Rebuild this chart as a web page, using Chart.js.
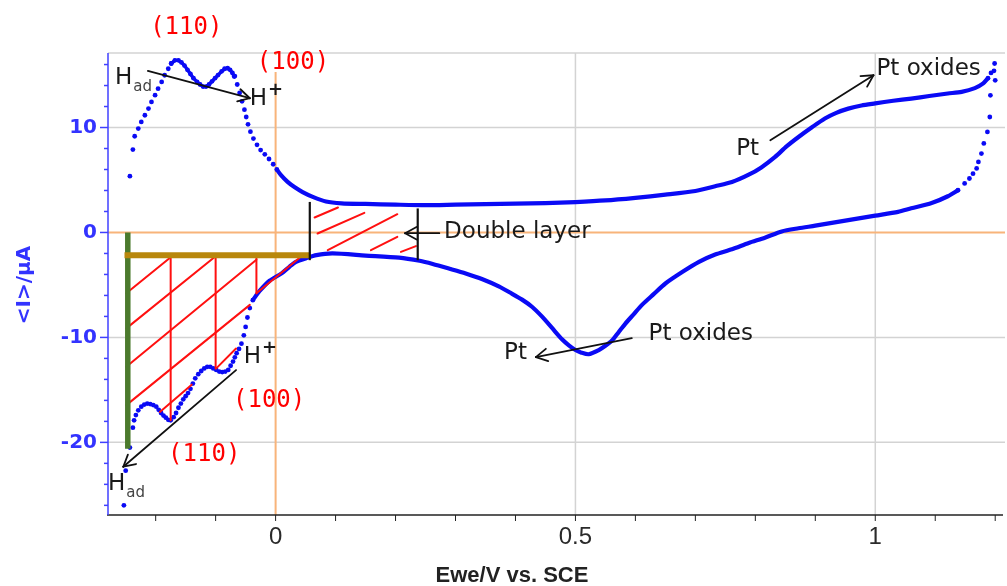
<!DOCTYPE html>
<html>
<head>
<meta charset="utf-8">
<script src="https://cdn.jsdelivr.net/npm/chart.js@4.4.1/dist/chart.umd.min.js"></script>
<style>
  html, body { margin: 0; padding: 0; background: #ffffff; }
  #wrap { width: 1007px; height: 586px; position: relative; }
</style>
</head>
<body>
<div id="wrap"><canvas id="cv"></canvas></div>
<script>
// Cyclic voltammogram of Pt: potential (V vs. SCE) and current (µA)

const xTickLabels = [0, 0.5, 1];
const yTickLabels = [-20, -10, 0, 10];
const xGrid = [0.5, 1];
const yGrid = [-20, -10, 10];

// anodic sweep: hydrogen desorption rise (sparse dots)
const anodicRise = [
  [-0.243, 5.36], [-0.238, 7.9], [-0.235, 9.17], [-0.229, 9.9], [-0.224, 10.53],
  [-0.218, 11.17], [-0.212, 11.8], [-0.207, 12.44], [-0.201, 13.08], [-0.196, 13.7],
  [-0.190, 14.34], [-0.185, 14.98], [-0.179, 15.6], [-0.174, 16.1]
];
// anodic sweep: (110) and (100) desorption peaks
const anodicPeaks = [
  [-0.174, 16.1], [-0.168, 16.4], [-0.162, 16.4], [-0.157, 16.2], [-0.152, 15.9],
  [-0.147, 15.5], [-0.142, 15.1], [-0.137, 14.7], [-0.131, 14.35], [-0.126, 14.1],
  [-0.121, 13.9], [-0.116, 13.9], [-0.111, 14.1], [-0.106, 14.4], [-0.101, 14.7],
  [-0.096, 15.0], [-0.090, 15.35], [-0.085, 15.6], [-0.080, 15.65], [-0.076, 15.5],
  [-0.072, 15.2], [-0.069, 14.85]
];
// anodic sweep: fall after the peaks
const anodicFall = [
  [-0.068, 14.9], [-0.064, 14.1], [-0.060, 13.3], [-0.056, 12.5], [-0.052, 11.7],
  [-0.049, 11.0], [-0.046, 10.3], [-0.042, 9.6], [-0.037, 8.95], [-0.031, 8.35],
  [-0.025, 7.85], [-0.018, 7.45], [-0.011, 7.0], [-0.004, 6.5], [0.002, 6.0]
];
// anodic sweep: double layer and oxide formation
const anodicMain = [
  [0.002, 6.0], [0.009, 5.46], [0.020, 4.82], [0.032, 4.3], [0.045, 3.85],
  [0.062, 3.39], [0.084, 2.95], [0.11, 2.78], [0.15, 2.72], [0.2, 2.65],
  [0.25, 2.6], [0.3, 2.65], [0.35, 2.7], [0.4, 2.75], [0.45, 2.8],
  [0.5, 2.9], [0.55, 3.05], [0.6, 3.3], [0.65, 3.6], [0.7, 3.95],
  [0.733, 4.4], [0.761, 4.8], [0.789, 5.5], [0.81, 6.2], [0.833, 7.2],
  [0.852, 8.2], [0.872, 9.1], [0.895, 10.05], [0.916, 10.86], [0.935, 11.4],
  [0.955, 11.8], [0.977, 12.1], [1.0, 12.3], [1.03, 12.55], [1.06, 12.76],
  [1.09, 13.0], [1.121, 13.24], [1.144, 13.4], [1.166, 13.75], [1.180, 14.2],
  [1.188, 14.7]
];
// reversal at the upper vertex
const vertexDots = [
  [1.188, 14.7], [1.193, 15.2], [1.198, 15.4], [1.199, 16.1], [1.2, 14.5],
  [1.192, 13.07], [1.191, 11.0], [1.187, 9.58], [1.181, 8.48], [1.177, 7.52],
  [1.172, 6.72], [1.169, 6.1], [1.163, 5.6], [1.157, 5.14], [1.149, 4.67],
  [1.138, 4.03]
];
// cathodic sweep: oxide reduction and double layer
const cathodicMain = [
  [1.138, 4.03], [1.121, 3.45], [1.094, 2.8], [1.06, 2.3], [1.038, 1.96],
  [1.0, 1.6], [0.955, 1.17], [0.9, 0.65], [0.872, 0.4], [0.844, 0.1],
  [0.816, -0.5], [0.789, -1.0], [0.761, -1.6], [0.733, -2.1], [0.706, -2.8],
  [0.68, -3.7], [0.65, -4.86], [0.63, -5.9], [0.611, -6.9], [0.597, -7.8],
  [0.583, -8.7], [0.572, -9.5], [0.561, -10.3], [0.55, -10.8], [0.539, -11.2],
  [0.522, -11.6], [0.51, -11.45], [0.5, -11.2], [0.489, -10.75], [0.478, -10.2],
  [0.461, -9.1], [0.444, -8.0], [0.428, -7.1], [0.411, -6.4], [0.39, -5.7],
  [0.373, -5.15], [0.345, -4.45], [0.317, -3.9], [0.29, -3.45], [0.262, -3.0],
  [0.24, -2.7], [0.206, -2.4], [0.15, -2.2], [0.095, -2.0], [0.068, -2.16],
  [0.051, -2.45], [0.034, -2.8], [0.023, -3.27], [0.01, -3.9], [-0.01, -4.6],
  [-0.027, -5.6], [-0.038, -6.45]
];
// cathodic sweep: hydrogen adsorption region
const cathodicHydrogen = [
  [-0.038, -6.45], [-0.043, -7.2], [-0.047, -8.1], [-0.050, -9.0], [-0.053, -9.8],
  [-0.057, -10.6], [-0.061, -11.1], [-0.065, -11.5], [-0.068, -11.9], [-0.071, -12.3],
  [-0.075, -12.7], [-0.079, -13.1], [-0.084, -13.25], [-0.089, -13.3], [-0.094, -13.25],
  [-0.099, -13.1], [-0.104, -12.95], [-0.109, -12.8], [-0.114, -12.8], [-0.119, -12.95],
  [-0.124, -13.2], [-0.129, -13.5], [-0.134, -13.9], [-0.138, -14.4], [-0.142, -14.9],
  [-0.146, -15.3], [-0.150, -15.6], [-0.154, -15.9], [-0.158, -16.3], [-0.162, -16.7],
  [-0.166, -17.2], [-0.170, -17.6], [-0.175, -17.9], [-0.179, -17.85], [-0.183, -17.65],
  [-0.187, -17.45], [-0.191, -17.2], [-0.195, -16.9], [-0.199, -16.6], [-0.204, -16.45],
  [-0.209, -16.35], [-0.214, -16.3], [-0.219, -16.4], [-0.224, -16.6], [-0.229, -16.95],
  [-0.233, -17.4], [-0.236, -17.9], [-0.238, -18.6], [-0.243, -20.5], [-0.25, -22.7],
  [-0.253, -26.0]
];

const BLUE = '#0a0af5';
const toXY = arr => arr.map(p => ({ x: p[0], y: p[1] }));

function dots(arr) {
  return { data: toXY(arr), showLine: false, pointRadius: 2.4, pointBackgroundColor: BLUE,
           pointBorderWidth: 0, borderColor: BLUE };
}
function trace(arr, withDots) {
  return { data: toXY(arr), showLine: true, borderColor: BLUE, borderWidth: withDots ? 3.4 : 4.2,
           tension: withDots ? 0 : 0.25,
           pointRadius: withDots ? 2.4 : 0, pointBackgroundColor: BLUE, pointBorderWidth: 0 };
}

// annotation geometry in data units (V, µA)
const hatchLines = [
  [-0.175, -2.16, -0.175, -17.9], [-0.1, -2.16, -0.1, -12.95], [-0.032, -2.16, -0.032, -5.8],
  [-0.249, -5.8, -0.176, -2.4], [-0.249, -9.14, -0.1, -2.26], [-0.249, -12.8, -0.032, -2.6],
  [-0.249, -16.45, -0.043, -6.9], [-0.193, -17.1, -0.14, -14.5], [-0.099, -12.95, -0.066, -11.05],
  [-0.032, -5.8, 0.043, -2.26]
];
const layerHatch = [
  [0.065, 1.43, 0.104, 2.38], [0.070, -0.1, 0.148, 1.87], [0.087, -1.69, 0.203, 1.74],
  [0.159, -1.69, 0.203, -0.42], [0.209, -1.85, 0.234, -1.3]
];
const blackBars = [[0.057, 2.91, 0.057, -2.64], [0.237, 2.29, 0.237, -2.64]];
const arrows = [
  [-0.213, 15.39, -0.043, 12.79], [0.825, 8.79, 0.997, 14.98], [0.273, -0.07, 0.216, -0.07],
  [0.594, -10.07, 0.434, -11.88], [-0.066, -13.11, -0.254, -22.32]
];
const words = [
  ['Pt oxides', 1.002, 14.98], ['Pt', 0.768, 7.36], ['Double layer', 0.281, -0.57],
  ['Pt oxides', 0.622, -10.25], ['Pt', 0.381, -12.06]
];
const facetLabels = [
  ['(110)', -0.149, 19.5], ['(100)', 0.029, 16.17], ['(100)', -0.0108, -16.07], ['(110)', -0.119, -21.2]
];

const decor = {
  id: 'decor',
  beforeDatasetsDraw(chart) {
    const ctx = chart.ctx, xs = chart.scales.x, ys = chart.scales.y;
    const { left, right, top, bottom } = chart.chartArea;
    ctx.save();
    ctx.lineCap = 'butt';
    ctx.strokeStyle = '#d3d3d3'; ctx.lineWidth = 1.5;
    const seg = (a, b, c, d) => { ctx.beginPath(); ctx.moveTo(a, b); ctx.lineTo(c, d); ctx.stroke(); };
    yGrid.forEach(v => { const y = ys.getPixelForValue(v); seg(left, y, right + 2, y); });
    xGrid.forEach(v => { const x = xs.getPixelForValue(v); seg(x, top, x, bottom); });
    seg(left, top, right + 2, top);
    // zero lines
    ctx.strokeStyle = '#f8b47a'; ctx.lineWidth = 2;
    const y0 = ys.getPixelForValue(0), x0 = xs.getPixelForValue(0);
    seg(left, y0, right + 2, y0);
    seg(x0, top, x0, bottom);
    // axes
    ctx.strokeStyle = '#222'; ctx.lineWidth = 1.5;
    seg(left - 1, bottom, right, bottom);
    ctx.lineWidth = 1;
    for (let i = -2; i <= 12; i++) {
      const x = xs.getPixelForValue(i / 10);
      seg(x, bottom, x, bottom + 6);
    }
    ctx.strokeStyle = '#4040ff'; ctx.lineWidth = 1.5;
    seg(left, top, left, bottom);
    for (let v = -26; v <= 16; v += 2) {
      const y = ys.getPixelForValue(v);
      seg(left - (v % 10 === 0 ? 8 : 4), y, left, y);
    }
    ctx.restore();
  },
  afterDatasetsDraw(chart) {
    const ctx = chart.ctx, xs = chart.scales.x, ys = chart.scales.y;
    const P = (x, y) => [xs.getPixelForValue(x), ys.getPixelForValue(y)];
    const line = (l) => { const a = P(l[0], l[1]), b = P(l[2], l[3]);
      ctx.beginPath(); ctx.moveTo(a[0], a[1]); ctx.lineTo(b[0], b[1]); ctx.stroke(); };
    ctx.save();
    ctx.lineCap = 'round';
    // red hatching
    ctx.strokeStyle = '#ff1010'; ctx.lineWidth = 2;
    hatchLines.forEach(line);
    layerHatch.forEach(line);
    // integration limits
    ctx.lineCap = 'butt';
    ctx.strokeStyle = '#4b7a2d'; ctx.lineWidth = 5.5;
    line([-0.2465, 0, -0.2465, -20.6]);
    ctx.strokeStyle = '#b8870c'; ctx.lineWidth = 6;
    line([-0.252, -2.16, 0.058, -2.16]);
    ctx.strokeStyle = '#111'; ctx.lineWidth = 2.2;
    blackBars.forEach(line);
    // arrows
    ctx.lineWidth = 1.8; ctx.lineCap = 'round';
    arrows.forEach(l => {
      line(l);
      const a = P(l[0], l[1]), b = P(l[2], l[3]);
      const ang = Math.atan2(b[1] - a[1], b[0] - a[0]);
      [0.5, -0.5].forEach(d => {
        ctx.beginPath(); ctx.moveTo(b[0], b[1]);
        ctx.lineTo(b[0] - 13 * Math.cos(ang + d), b[1] - 13 * Math.sin(ang + d)); ctx.stroke();
      });
    });
    // red facet labels
    ctx.font = '24px "DejaVu Sans Mono"';
    ctx.textAlign = 'center'; ctx.textBaseline = 'middle';
    facetLabels.forEach((t, i) => {
      const p = P(t[1], t[2]);
      if (i === 1) { ctx.fillStyle = '#fff'; ctx.fillRect(p[0] - 34, 55, 68, 17); }
      ctx.fillStyle = '#ff0000';
      ctx.fillText(t[0], p[0], p[1]);
    });
    // black labels
    ctx.fillStyle = '#1a1a1a'; ctx.textAlign = 'left'; ctx.textBaseline = 'alphabetic';
    ctx.font = '23px "DejaVu Sans"';
    words.forEach(t => { const p = P(t[1], t[2]); ctx.fillText(t[0], p[0], p[1]); });
    // H_ad and H+ labels
    const hLabel = (x, y, kind) => {
      const p = P(x, y);
      ctx.font = '23px "DejaVu Sans"';
      ctx.fillStyle = '#1a1a1a';
      ctx.fillText('H', p[0], p[1]);
      const w = ctx.measureText('H').width;
      if (kind === 'ad') {
        ctx.font = '15px "DejaVu Sans"'; ctx.fillStyle = '#444';
        ctx.fillText('ad', p[0] + w + 1, p[1] + 7);
      } else {
        ctx.font = 'bold 18px "DejaVu Sans"';
        ctx.fillText('+', p[0] + w + 1, p[1] - 10);
      }
    };
    hLabel(-0.268, 14.12, 'ad');
    hLabel(-0.0433, 12.12, '+');
    hLabel(-0.0532, -12.48, '+');
    hLabel(-0.2795, -24.55, 'ad');
    // axis titles
    ctx.fillStyle = '#222'; ctx.font = 'bold 22px "Liberation Sans", Arial, sans-serif';
    ctx.textAlign = 'center'; ctx.textBaseline = 'middle';
    ctx.fillText('Ewe/V vs. SCE', 512, 576);
    ctx.save();
    ctx.translate(25, 285); ctx.rotate(-Math.PI / 2);
    ctx.fillStyle = '#3333ff'; ctx.font = 'bold 20px "DejaVu Sans"';
    ctx.fillText('<I>/µA', 0, 0);
    ctx.restore();
    ctx.restore();
  }
};

new Chart(document.getElementById('cv'), {
  type: 'scatter',
  data: {
    datasets: [
      dots(anodicRise), trace(anodicPeaks, true), dots(anodicFall), trace(anodicMain, false),
      dots(vertexDots), trace(cathodicMain, false), dots(cathodicHydrogen)
    ]
  },
  options: {
    responsive: true, maintainAspectRatio: false, animation: false, devicePixelRatio: 1,
    layout: { padding: { top: 53, right: 2, left: 0, bottom: 0 } },
    plugins: { legend: { display: false }, tooltip: { enabled: false } },
    scales: {
      x: {
        type: 'linear', min: -0.2795, max: 1.213,
        grid: { display: false, drawTicks: false }, border: { display: false },
        afterBuildTicks: s => { s.ticks = xTickLabels.map(v => ({ value: v })); },
        afterFit: s => { s.height = 71; },
        ticks: { color: '#2a2a2a', padding: 8, maxRotation: 0, autoSkip: false,
                 font: { family: '"Liberation Sans Narrow", "Liberation Sans", Arial, sans-serif', size: 24 },
                 callback: v => String(v) }
      },
      y: {
        type: 'linear', min: -26.92, max: 17.1,
        grid: { display: false, drawTicks: false }, border: { display: false },
        afterBuildTicks: s => { s.ticks = yTickLabels.map(v => ({ value: v })); },
        afterFit: s => { s.width = 108; },
        ticks: { color: '#3333ff', padding: 11, autoSkip: false,
                 font: { family: '"DejaVu Sans"', size: 20, weight: 'bold' },
                 callback: v => String(v) }
      }
    }
  },
  plugins: [decor]
});
</script>
</body>
</html>
